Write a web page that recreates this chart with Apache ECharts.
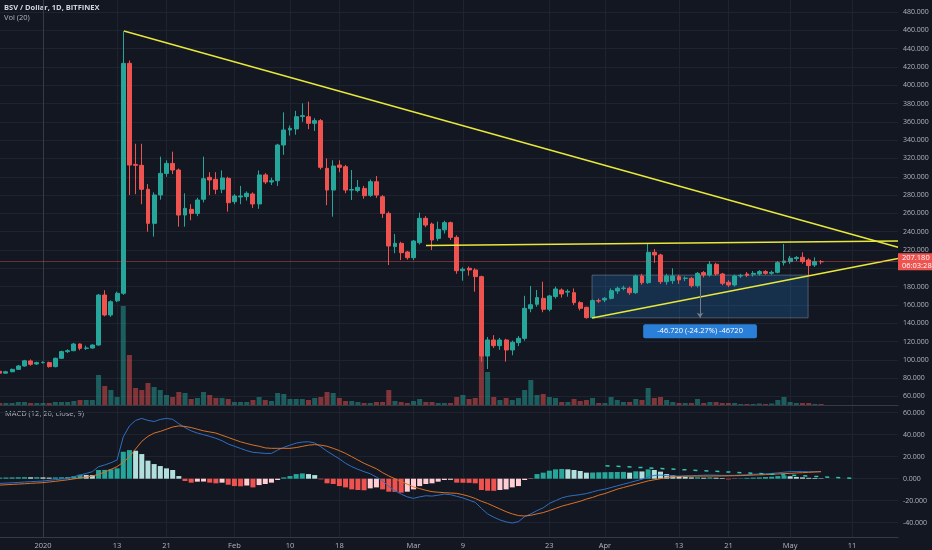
<!DOCTYPE html>
<html>
<head>
<meta charset="utf-8">
<script src="https://cdn.jsdelivr.net/npm/echarts@6/dist/echarts.min.js"></script>
<style>
html,body{margin:0;padding:0;background:#131722;}
#c{width:932px;height:550px;}
</style>
</head>
<body>
<div id="c"></div>
<script>
// ---------------- DATA ----------------
const chartTitle = 'BSV / Dollar, 1D, BITFINEX';
const volTitle = 'Vol (20)';
const macdTitle = 'MACD (12, 26, close, 9)';
const startDate = '2019-12-25';
// [open, close, low, high], one row per day from startDate
const ohlc = [
[87.5,85.5,84.5,88.5],[85.5,87,85,88],[87,89.6,86.5,90.5],[89.6,93.3,89,94.5],[93.3,99,92.5,100],
[98.8,95.1,93.5,100.5],[95.5,97,94.5,98],[97,97.2,96,98.5],[97,92.6,91.5,98],[92.6,101.7,91.8,102.5],
[101.7,109,101,110],[109,110,107.5,111.5],[110,117.3,109.5,118.5],[117.3,112.6,110.5,118],[112.6,112.9,110.8,115.5],
[112.9,116.2,112,117],[116.2,170.8,115.5,172],[170.8,149,147.5,176],[149,163.5,147,165],[164.5,172.7,163,174.5],
[172.7,423.9,171,459],[423.9,312.8,280,427],[313.5,312.5,281,336],[312.5,286.3,270,336],[286.3,249.1,240,292],
[249.1,280.1,234.6,283],[280.1,303.7,275,322],[303.7,314.6,300,318],[314.6,307.4,303,327.4],[307.4,258.2,245.5,309],
[258.2,265.5,245.5,281.9],[264.4,260,252.5,270],[260,274.6,257,277],[275.4,297.9,272,322],[299.4,296.5,280,305],
[297.2,286.3,281,305],[286.3,298.7,282,307],[298.3,271.7,261.9,300],[272.8,279,270,281],[278,279,270,290],
[278.3,281.9,274,284],[281.2,270.3,266,283],[270.3,302,265,307],[302,294.3,292,304],[294.3,295.7,291,299],
[295.7,334.7,290,336],[334.7,351.1,324,370.4],[351.1,352.9,345,356],[352.2,365.6,346,372],[365.8,366.7,360,380.2],
[365.6,358.4,352,382],[358.4,361.3,350,364],[361.3,310.3,308,363],[309.2,285.5,269,320],[285.5,311.7,256.4,318],
[312.8,310.3,305,318],[311,285.5,282,313],[285.5,286,274.6,307.4],[285,288.4,283,296.5],[287.3,279.3,276,290],
[279.7,294.6,278,297],[294.6,280,277,300.8],[278.2,260,255,280],[260,224.4,203.6,262],[223.7,227.3,216.5,237.5],
[227.3,217.1,209,229],[217.8,211.6,209.5,219],[211.6,229.8,209,231],[228,254.6,226,260.8],[254.6,247.3,245,257],
[248.4,230.9,220,250],[232.7,242.6,230,251],[242,249.9,238,252],[249.9,233.8,231,251],[233.8,197.4,194,236],
[197.4,199,186.5,201],[200,198.2,192,202],[198.2,190.9,174.5,200],[190.9,104.2,98,192],[104.2,121.7,90,125],
[121.7,115.5,113,127],[115.5,121.7,111,124],[121.7,110.8,98,123],[110.8,119.2,105,121],[118.8,123.5,115,126],
[123.5,156.3,121,170],[155.9,160.2,152,180.7],[160.7,168,158,176.3],[167.2,155.2,152,185.4],[155.2,169.8,153,171],
[169.1,177.4,167,180],[176.3,172,168,178],[174,174.8,169,177],[173.4,162.5,160,178],[162.5,156.3,154,164],
[157.4,146.1,145,158],[146.1,164.7,145.7,166],[164.7,164.2,162,167],[165.4,167.2,163,168.5],[167.2,175.6,166,178],
[175.2,178.2,172,180],[178,178.5,176,181],[178.2,173.4,171,180],[173.4,191.6,172,193],[191.6,184.3,182,194],
[184.3,217.5,183,226.6],[217.5,214.6,206,221],[214.6,185.4,183,216],[185.4,191.6,182,194],[186.5,191.6,183,200],
[190.9,187.3,183,193],[189,189.2,186,191],[189,181,179,190.5],[181,194.5,179,196],[195.3,192.7,190,197],
[192.7,204.4,191,208],[204.4,193.8,192,206],[193.8,183.6,181.5,195],[184.7,181.8,179.5,187],[181.8,191.6,180,193],
[191.6,192.2,189.5,194],[193.8,192.4,190.5,196],[193.5,194.5,191,197],[193.8,196.4,192,198],[196.4,194.5,193,198],
[194.5,195.6,193,197.5],[195.6,206.2,194.5,208],[206.2,208,203,226.6],[207.3,211,205,213.5],[210.6,211.7,208,213.5],
[212,207.3,205,217.5],[209.1,202.9,192.5,211],[203.6,207.3,201.5,212],[207.3,207.18,204.5,209]
];
const volume = [
2,2,2,3,3,2,2,2,2,3,3,3,4,5,5,5,
30,19,15,8,99,50,17,15,22,18,15,10,
8,13,12,6,7,13,10,7,7,6,3,3,3,5,8,5,4,12,11,6,6,6,5,7,8,13,12,
7,4,4,3,2,2,3,3,15,4,3,2,4,6,3,3,2,2,2,8,10,6,7,49,33,
8,5,7,5,7,15,25,10,11,8,7,3,3,6,4,5,7,2,2,8,5,3,3,6,5,17,7,8,
5,3,2,2,2,6,2,3,3,2,2,2,1,1,1,1.5,1,1.5,5,8,3,2,2,2,1,1
];
const macdLine = [
-4.3,-4.0,-3.7,-3.4,-3.0,-2.7,-2.4,-2.1,
-1.5,-0.9,-0.3,0.3,1.8,3.3,4.8,6.4,10.9,12.5,14.5,17,
38,48,53,54.8,53,52,53.9,54.8,54,50,46.5,43.5,41.5,40,38.5,36.7,34.5,31.5,
29.5,27.5,25.5,24,23.5,23,23,26,28.5,30.5,32.3,33.3,33.6,32.5,29,25,21.5,18,14,11,8.5,6.4,4.5,1.5,-2,-7,-11,-14,-16.5,-17.9,
-16.5,-15.5,-15.8,-15,-14,-14.5,-16,-17.5,-19.5,-21.5,-27,-32,-35,-37.5,-39.3,-40.3,-39,-34.5,-32,-29,-26.5,-22.5,-20,-17.5,-16,-15.2,-14.5,-13.5,-12,-10.5,
-9.5,-8,-6.5,-5,-3.5,-2,-0.5,1.5,3,3.3,2.8,2.4,2.4,2.4,2.5,2.9,3.2,3.3,3.2,3,3,3.1,3.3,3.6,4,4.3,4.5,4.8,5.3,5.9,6.4,6.5,6.5,6.3,6.4,6.4
];
const signalLine = [
-5.8,-5.5,-5.2,-4.9,-4.6,-4.2,-3.9,-3.6,
-3.0,-2.4,-1.7,-1.0,-0.2,0.7,1.5,2.4,4,6,8.5,11,
15,20,27,34,38.5,41.5,43,45,47,48,47.5,46.5,45,43.5,42.5,41.5,39.5,37.5,
35.5,33.5,32,30.6,29.5,28,27.6,27.6,27.6,27.6,28.3,29.4,30.5,31,30.5,29.5,27.6,25.5,23,20,17,14,11.5,9,5.5,2.5,0,-2.5,-5,-7.5,
-9,-10.5,-11.8,-12.3,-12.7,-13,-13.3,-14.5,-16,-18,-20.5,-22.5,-25,-27.5,-30,-32,-33.5,-33.9,-33.3,-32,-30.8,-29,-27,-25,-23.5,-22,-20.5,-18.5,-17,-15,
-13.5,-11.5,-9.5,-8,-6.5,-5,-3.5,-2,-1,0,1,1.6,2,2.4,2.4,2.4,2.4,2.4,2.5,2.5,2.6,2.7,2.8,3,3.3,3.5,3.7,4,4.3,4.6,4.8,5.2,5.5,5.8,6.1,6.4
];
const macdHist = [
1.0,1.1,1.2,1.3,1.4,1.3,1.4,1.2,
1.0,1.2,1.3,1.5,2.2,3.6,3.4,3.3,7.9,8.0,8.5,9.4,
24.5,26,25.4,22.4,16.4,13.3,11.5,9.4,7.9,2.4,-2.1,-3.6,-2.7,-2.6,-3.6,-4.2,-3.6,-5.5,
-6.7,-6.9,-6.2,-7.9,-5.8,-4.8,-3.6,-1.2,1.2,2.4,4.2,4.8,4.2,3.3,-0.6,-4.2,-4.8,-6.7,-7.9,-9.7,-10.3,-10.5,-8.8,-7.9,-9.7,-11.8,-12.0,-12.7,-11.8,-9.7,
-6.7,-4.8,-4.2,-2.7,-1.2,-1.0,-3.6,-3.7,-3.8,-4.2,-10.3,-10.9,-11.0,-10.3,-9.7,-7.9,-6.7,-1.2,-0.3,4.2,5.5,7.3,8.5,8.8,8.5,7.9,7.0,5.5,5.6,5.8,
5.9,6.0,6.1,6.2,5.5,6.7,6.6,8.5,7.9,6.4,4.2,3.0,2.4,1.8,1.2,1.3,0.9,1.2,0.9,0.6,-0.6,-0.2,0.3,0.8,1.0,1.2,1.5,1.8,2.4,2.8,2.2,1.6,1.2,0.8,0.6,0.4
];
const xTickDates = ['2020-01-01','2020-01-13','2020-01-21','2020-02-01','2020-02-10','2020-02-18','2020-03-01','2020-03-09','2020-03-23','2020-04-01','2020-04-13','2020-04-21','2020-05-01','2020-05-11'];
const xTickLabels = ['2020','13','21','Feb','10','18','Mar','9','23','Apr','13','21','May','11'];
const priceTicks = [60,80,100,120,140,160,180,200,220,240,260,280,300,320,340,360,380,400,420,440,460,480];
const macdTicks = [-40,-20,0,20,40,60];
const lastPrice = 207.18;
const countdown = '06:03:28';
// drawn annotations: [[day since 2020-01-01, price], [day, price]]
const trendLines = [
  [[13.12, 459.2], [138.46, 222.9]],
  [[62.02, 224.9], [138.46, 229.8]],
  [[88.91, 145.7], [138.46, 210.7]]
];
const measureBox = { from: [88.91, 192.6], to: [123.9, 145.9], arrowDay: 106.4, text: '-46.720 (-24.27%) -46720' };
const macdDashLine = [[91.1, 11.8], [131.2, 0.3]];

// ---------------- CHART ----------------
const DAY = 86400000;
const base = Date.parse('2020-01-01');
const dayOf = s => (Date.parse(s) - base) / DAY;
const firstDay = dayOf(startDate);
const xTickDays = xTickDates.map(dayOf);

const UP = '#26a69a', DOWN = '#ef5350';
const gridColor = '#1f2330';
const axisColor = '#363a45';
const textColor = '#b2b5be';
const FONT = '"Open Sans", Lato, sans-serif';

const candleData = ohlc.map((r, i) => [firstDay + i, r[0], r[1], r[2], r[3]]);
const volData = volume.map((v, i) => ({
  value: [firstDay + i, v],
  itemStyle: { color: ohlc[i][1] >= ohlc[i][0] ? 'rgba(38,166,154,0.5)' : 'rgba(239,83,80,0.5)' }
}));
const histData = macdHist.map((h, i) => {
  const prev = i > 0 ? macdHist[i - 1] : h;
  let c;
  if (h >= 0) c = h < prev ? '#b2dfdb' : '#26a69a';
  else c = h < prev ? '#ef5350' : '#ffcdd2';
  return { value: [firstDay + i, h], itemStyle: { color: c } };
});
const macdData = macdLine.map((v, i) => [firstDay + i, v]);
const signalData = signalLine.map((v, i) => [firstDay + i, v]);

const X_MIN = -6.96, X_MAX = 138.46;
function xAxisCfg(gridIndex, showLabel) {
  return {
    type: 'value', gridIndex, min: X_MIN, max: X_MAX,
    axisLine: { show: true, onZero: false, lineStyle: { color: axisColor } },
    axisTick: { show: false, customValues: xTickDays },
    axisLabel: {
      show: showLabel, customValues: xTickDays, color: textColor, fontSize: 7.5, fontFamily: FONT, margin: 5,
      formatter: v => { const k = xTickDays.findIndex(d => Math.abs(d - v) < 1e-6); return k >= 0 ? xTickLabels[k] : ''; }
    },
    splitLine: { show: true, lineStyle: { color: gridColor, width: 1 } }
  };
}

const trendItems = trendLines.map(l => [
  { coord: l[0], lineStyle: { color: '#e8e83a', width: 1.5, type: 'solid' } },
  { coord: l[1] }
]);

const option = {
  backgroundColor: '#131722',
  animation: false,
  textStyle: { fontFamily: FONT },
  grid: [
    { left: 0, right: 34, top: 0, height: 405 },
    { left: 0, right: 34, top: 405, height: 132 }
  ],
  xAxis: [xAxisCfg(0, false), xAxisCfg(1, true)],
  yAxis: [
    {
      type: 'value', gridIndex: 0, position: 'right', min: 50.68, max: 493.1, scale: true,
      axisLine: { show: true, lineStyle: { color: axisColor } },
      axisTick: { show: false, customValues: priceTicks },
      axisLabel: { customValues: priceTicks, color: textColor, fontSize: 7, fontFamily: FONT, margin: 5, formatter: v => v.toFixed(3) },
      splitLine: { show: true, lineStyle: { color: gridColor } }
    },
    { type: 'value', gridIndex: 0, min: 0, max: 405, show: false, splitLine: { show: false } },
    {
      type: 'value', gridIndex: 1, position: 'right', min: -53, max: 67,
      axisLine: { show: true, lineStyle: { color: axisColor } },
      axisTick: { show: false, customValues: macdTicks },
      axisLabel: { customValues: macdTicks, color: textColor, fontSize: 7, fontFamily: FONT, margin: 5, formatter: v => v.toFixed(3) },
      splitLine: { show: true, lineStyle: { color: gridColor } }
    }
  ],
  series: [
    {
      name: 'Vol', type: 'bar', xAxisIndex: 0, yAxisIndex: 1, data: volData, barWidth: 5, z: 1, silent: true
    },
    {
      name: 'BSV', type: 'candlestick', xAxisIndex: 0, yAxisIndex: 0, z: 3,
      data: candleData, encode: { x: 0, y: [1, 2, 3, 4] }, barWidth: 4.4,
      itemStyle: { color: UP, color0: DOWN, borderColor: UP, borderColor0: DOWN, borderWidth: 1 },
      markArea: {
        silent: true,
        itemStyle: { color: 'rgba(33,150,243,0.2)', borderColor: 'rgba(140,150,170,0.6)', borderWidth: 0.8 },
        label: {
          show: true, position: 'bottom', distance: 6,
          formatter: measureBox.text, color: '#ffffff', fontSize: 7.5, fontFamily: FONT,
          backgroundColor: '#2a7fd8', borderRadius: 2, padding: [3, 14]
        },
        data: [[{ coord: measureBox.from }, { coord: measureBox.to }]]
      },
      markLine: {
        silent: true, symbol: ['none', 'none'], animation: false,
        label: { show: false },
        data: [
          ...trendItems,
          [
            { coord: [measureBox.arrowDay, measureBox.from[1]], lineStyle: { color: '#787b86', width: 1, type: 'solid' }, symbol: 'none' },
            { coord: [measureBox.arrowDay, measureBox.to[1]], symbol: 'arrow', symbolSize: 5 }
          ],
          {
            yAxis: lastPrice,
            lineStyle: { color: 'rgba(239,83,80,0.4)', width: 1, type: 'solid' },
            label: {
              show: true, position: 'end', distance: 0,
              formatter: lastPrice.toFixed(3) + '\n' + countdown,
              color: '#ffffff', fontSize: 7.5, fontFamily: FONT, lineHeight: 8.5,
              backgroundColor: '#ef5350', padding: [0, 4, 0, 4]
            }
          }
        ]
      }
    },
    {
      name: 'Histogram', type: 'bar', xAxisIndex: 1, yAxisIndex: 2, data: histData, barWidth: 5, z: 2, silent: true,
      markLine: {
        silent: true, symbol: ['none', 'none'], label: { show: false },
        lineStyle: { color: '#2ec4b0', width: 1.5, type: [4, 7] },
        data: [[{ coord: macdDashLine[0] }, { coord: macdDashLine[1] }]]
      }
    },
    {
      name: 'MACD', type: 'line', xAxisIndex: 1, yAxisIndex: 2, data: macdData, showSymbol: false, z: 3,
      lineStyle: { color: '#2f6fc0', width: 1 }, silent: true
    },
    {
      name: 'Signal', type: 'line', xAxisIndex: 1, yAxisIndex: 2, data: signalData, showSymbol: false, z: 3,
      lineStyle: { color: '#d9722a', width: 1 }, silent: true
    }
  ],
  graphic: [
    { type: 'text', left: 4, top: 4, style: { text: chartTitle, fill: '#d1d4dc', font: 'bold 7.5px ' + FONT } },
    { type: 'text', left: 4, top: 14, style: { text: volTitle, fill: '#b2b5be', font: '7.5px ' + FONT } },
    { type: 'text', left: 5, top: 410, style: { text: macdTitle, fill: '#b2b5be', font: '7.5px ' + FONT } }
  ]
};

const chart = echarts.init(document.getElementById('c'), null, { renderer: 'canvas' });
chart.setOption(option);
</script>
</body>
</html>
